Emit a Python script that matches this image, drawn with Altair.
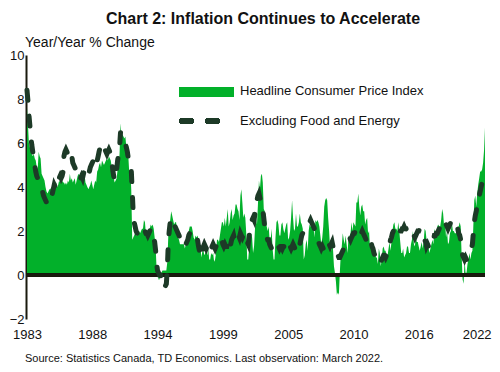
import altair as alt
import pandas as pd

# Monthly y/y % change, Jan 1983 - Mar 2022
headline = [
    7.6, 6.8, 6.0, 5.8, 5.7, 5.5, 5.4, 5.5, 5.3, 5.2, 4.9, 4.8,  # 1983
    5.6, 5.4, 5.3, 4.6, 4.5, 4.4, 4.3, 4.0, 3.8, 3.7, 3.8, 3.9,  # 1984
    3.9, 4.0, 3.9, 4.1, 4.2, 4.1, 4.2, 4.0, 4.1, 4.3, 4.2, 4.3,  # 1985
    4.3, 4.2, 4.2, 4.1, 4.2, 4.1, 4.3, 4.2, 4.6, 4.3, 4.4, 4.2,  # 1986
    4.3, 4.4, 4.1, 4.3, 4.5, 4.6, 4.5, 4.4, 4.6, 4.5, 4.5, 4.6,  # 1987
    4.2, 4.1, 4.0, 3.9, 4.0, 4.1, 4.3, 4.1, 3.9, 4.1, 4.3, 4.2,  # 1988
    4.7, 4.8, 5.0, 5.1, 4.9, 5.2, 5.1, 5.0, 5.1, 5.2, 5.3, 5.2,  # 1989
    5.4, 5.3, 5.2, 4.9, 4.6, 4.4, 4.2, 4.3, 4.4, 4.8, 5.0, 5.5,  # 1990
    6.9, 6.3, 6.4, 6.3, 6.2, 6.3, 5.8, 6.0, 5.4, 4.6, 4.8, 3.9,  # 1991
    1.6, 1.7, 1.8, 1.9, 1.8, 1.8, 1.9, 2.0, 1.9, 2.0, 2.1, 2.1,  # 1992
    2.5, 2.4, 1.9, 1.8, 1.8, 2.0, 2.1, 2.3, 2.2, 2.3, 2.1, 1.7,  # 1993
    1.3, 0.2, 0.2, -0.2, -0.2, 0.0, 0.1, 0.2, 0.2, 0.2, 0.2, 0.2,  # 1994
    0.6, 1.8, 2.2, 2.5, 2.9, 2.7, 2.5, 2.3, 2.4, 2.4, 2.0, 1.7,  # 1995
    1.6, 1.4, 1.4, 1.4, 1.4, 1.4, 1.2, 1.4, 1.5, 1.8, 2.0, 2.2,  # 1996
    2.2, 2.2, 2.0, 1.7, 1.6, 1.8, 1.7, 1.8, 1.6, 1.5, 1.2, 0.8,  # 1997
    1.1, 1.1, 0.9, 1.0, 1.1, 0.9, 1.2, 0.7, 0.7, 1.0, 0.9, 1.0,  # 1998
    0.6, 0.7, 1.0, 1.6, 1.6, 1.5, 1.8, 2.1, 2.4, 2.4, 2.2, 2.6,  # 1999
    2.2, 2.6, 3.0, 2.2, 2.4, 2.8, 3.0, 2.5, 2.7, 2.8, 3.2, 3.2,  # 2000
    3.0, 2.9, 2.5, 3.6, 3.9, 3.3, 2.6, 2.8, 2.6, 1.9, 0.7, 0.7,  # 2001
    1.3, 1.5, 1.9, 1.7, 1.0, 1.3, 2.1, 2.6, 2.3, 3.2, 4.3, 3.9,  # 2002
    4.5, 4.6, 4.2, 3.0, 2.9, 2.6, 2.2, 2.0, 2.2, 1.6, 1.6, 2.1,  # 2003
    1.2, 0.7, 0.7, 1.7, 2.4, 2.5, 2.3, 1.8, 1.8, 2.3, 2.4, 2.1,  # 2004
    1.9, 2.1, 2.3, 2.4, 1.6, 1.7, 2.0, 2.6, 3.4, 2.6, 2.0, 2.1,  # 2005
    2.8, 2.2, 2.2, 2.4, 2.8, 2.4, 2.3, 2.1, 0.7, 0.9, 1.4, 1.6,  # 2006
    1.1, 2.0, 2.3, 2.2, 2.2, 2.2, 2.2, 1.7, 2.5, 2.4, 2.5, 2.4,  # 2007
    2.2, 1.8, 1.4, 1.7, 2.2, 3.1, 3.4, 3.5, 3.4, 2.6, 2.0, 1.2,  # 2008
    1.1, 1.4, 1.2, 0.4, 0.1, -0.3, -0.9, -0.8, -0.9, 0.1, 1.0, 1.3,  # 2009
    1.9, 1.6, 1.4, 1.8, 1.4, 1.0, 1.8, 1.7, 1.9, 2.4, 2.0, 2.4,  # 2010
    2.3, 2.2, 3.3, 3.3, 3.7, 3.1, 2.7, 3.1, 3.2, 2.9, 2.9, 2.3,  # 2011
    2.5, 2.6, 1.9, 2.0, 1.2, 1.5, 1.3, 1.2, 1.2, 1.2, 0.8, 0.8,  # 2012
    0.5, 1.2, 1.0, 0.4, 0.7, 1.2, 1.3, 1.1, 1.1, 0.7, 0.9, 1.2,  # 2013
    1.5, 1.1, 1.5, 2.0, 2.3, 2.4, 2.1, 2.1, 2.0, 2.4, 2.0, 1.5,  # 2014
    1.0, 1.0, 1.2, 0.8, 0.9, 1.0, 1.3, 1.3, 1.0, 1.0, 1.4, 1.6,  # 2015
    2.0, 1.4, 1.3, 1.7, 1.5, 1.5, 1.3, 1.1, 1.3, 1.5, 1.2, 1.5,  # 2016
    2.1, 2.0, 1.6, 1.6, 1.3, 1.0, 1.2, 1.4, 1.6, 1.4, 2.1, 1.9,  # 2017
    1.7, 2.2, 2.3, 2.2, 2.2, 2.5, 3.0, 2.8, 2.2, 2.4, 1.7, 2.0,  # 2018
    1.4, 1.5, 1.9, 2.0, 2.4, 2.0, 2.0, 1.9, 1.9, 1.9, 2.2, 2.2,  # 2019
    2.4, 2.2, 0.9, -0.2, -0.4, 0.7, 0.1, 0.1, 0.5, 0.7, 1.0, 0.7,  # 2020
    1.0, 1.1, 2.2, 3.4, 3.6, 3.1, 3.7, 4.1, 4.4, 4.7, 4.7, 4.8,  # 2021
    5.1, 5.7, 6.7,                                               # 2022
]

core = [
    8.4, 7.9, 7.3, 6.8, 6.3, 5.9, 5.6, 5.3, 5.0, 4.7, 4.5, 4.4,  # 1983
    4.3, 4.2, 4.1, 4.0, 3.8, 3.6, 3.5, 3.4, 3.3, 3.3, 3.4, 3.3,  # 1984
    3.4, 3.5, 3.7, 3.9, 4.1, 4.0, 4.2, 4.3, 4.5, 4.4, 4.5, 4.4,  # 1985
    4.5, 4.7, 5.4, 5.6, 5.7, 5.6, 5.5, 5.6, 5.4, 5.3, 5.4, 5.1,  # 1986
    5.0, 4.9, 4.8, 4.6, 4.5, 4.4, 4.3, 4.4, 4.5, 4.4, 4.6, 4.8,  # 1987
    4.9, 4.8, 4.7, 4.6, 4.7, 4.9, 5.0, 5.1, 5.2, 5.0, 4.9, 5.0,  # 1988
    5.2, 5.4, 5.6, 5.8, 5.9, 5.8, 5.7, 5.8, 5.7, 5.6, 5.5, 5.6,  # 1989
    5.7, 5.6, 5.5, 5.2, 4.8, 4.5, 4.3, 4.4, 4.8, 5.2, 5.5, 5.8,  # 1990
    6.5, 6.4, 6.3, 6.2, 6.1, 6.0, 5.8, 5.6, 5.3, 5.1, 4.9, 4.8,  # 1991
    3.8, 2.8, 2.4, 2.2, 2.0, 1.9, 1.8, 1.8, 1.7, 1.8, 1.9, 2.0,  # 1992
    2.0, 2.0, 1.9, 1.9, 1.8, 1.9, 2.0, 2.1, 2.1, 2.0, 1.7, 1.5,  # 1993
    1.1, 0.5, 0.2, 0.1, 0.0, 0.0, -0.1, 0.0, -0.2, -0.4, -0.5, -0.4,  # 1994
    0.3, 1.5, 2.0, 2.4, 2.6, 2.5, 2.4, 2.3, 2.2, 2.1, 2.0, 1.9,  # 1995
    1.8, 1.7, 1.6, 1.6, 1.5, 1.4, 1.3, 1.4, 1.5, 1.6, 1.8, 1.9,  # 1996
    1.9, 1.8, 1.8, 1.7, 1.8, 1.7, 1.6, 1.6, 1.3, 1.1, 0.9, 0.8,  # 1997
    1.1, 1.3, 1.4, 1.3, 1.2, 1.3, 1.4, 1.2, 1.3, 1.2, 1.3, 1.4,  # 1998
    1.3, 1.2, 1.3, 1.4, 1.4, 1.3, 1.4, 1.5, 1.6, 1.4, 1.3, 1.4,  # 1999
    1.3, 1.3, 1.5, 1.2, 1.3, 1.4, 1.6, 1.7, 1.8, 1.6, 1.5, 1.7,  # 2000
    1.8, 1.8, 1.7, 1.9, 1.8, 1.7, 1.8, 1.9, 1.9, 1.6, 1.5, 1.4,  # 2001
    1.8, 2.1, 2.3, 2.5, 2.6, 2.5, 2.8, 3.1, 3.4, 3.6, 3.7, 3.5,  # 2002
    3.4, 3.3, 3.0, 2.6, 2.2, 1.9, 1.7, 1.6, 1.6, 1.4, 1.3, 1.2,  # 2003
    1.1, 1.1, 1.2, 1.3, 1.3, 1.2, 1.3, 1.2, 1.3, 1.3, 1.2, 1.3,  # 2004
    1.3, 1.4, 1.5, 1.4, 1.3, 1.4, 1.3, 1.2, 1.3, 1.4, 1.3, 1.2,  # 2005
    1.4, 1.3, 1.4, 1.5, 1.4, 1.6, 1.8, 1.9, 1.9, 2.0, 2.1, 2.2,  # 2006
    2.2, 2.3, 2.4, 2.5, 2.4, 2.3, 2.2, 2.1, 2.0, 1.9, 1.7, 1.5,  # 2007
    1.4, 1.3, 1.2, 1.3, 1.2, 1.1, 1.2, 1.3, 1.4, 1.5, 1.4, 1.3,  # 2008
    1.4, 1.5, 1.3, 1.2, 1.1, 1.0, 1.1, 0.9, 0.8, 0.8, 0.9, 1.0,  # 2009
    1.1, 1.2, 1.3, 1.4, 1.5, 1.6, 1.6, 1.7, 1.6, 1.7, 1.8, 1.9,  # 2010
    1.9, 2.0, 2.0, 1.9, 1.8, 1.9, 1.8, 1.9, 2.0, 1.9, 1.8, 1.7,  # 2011
    1.6, 1.7, 1.6, 1.6, 1.7, 1.5, 1.3, 1.2, 1.0, 0.9, 0.8, 0.7,  # 2012
    0.7, 0.6, 0.7, 0.6, 0.7, 0.8, 0.9, 0.9, 0.8, 0.9, 1.0, 1.2,  # 2013
    1.4, 1.6, 1.7, 1.9, 2.0, 1.9, 1.8, 1.9, 1.8, 1.9, 2.0, 2.0,  # 2014
    2.0, 2.1, 2.1, 2.2, 2.1, 2.1, 2.0, 1.9, 1.9, 1.8, 1.9, 1.9,  # 2015
    1.9, 1.8, 1.7, 1.8, 1.9, 2.0, 2.0, 2.1, 2.1, 2.0, 1.9, 1.7,  # 2016
    1.6, 1.5, 1.3, 1.4, 1.3, 1.4, 1.5, 1.4, 1.5, 1.6, 1.8, 1.8,  # 2017
    1.9, 1.9, 2.0, 2.1, 2.1, 2.2, 2.3, 2.2, 2.1, 2.2, 2.3, 2.2,  # 2018
    2.1, 2.2, 2.3, 2.4, 2.4, 2.5, 2.4, 2.4, 2.3, 2.2, 2.1, 1.9,  # 2019
    1.8, 1.6, 1.2, 0.9, 0.8, 0.7, 0.8, 0.7, 0.9, 1.0, 1.1, 1.2,  # 2020
    1.2, 1.4, 1.9, 2.4, 2.7, 2.9, 3.2, 3.4, 3.6, 3.8, 4.0, 4.2,  # 2021
    4.3, 4.4, 4.5,                                               # 2022
]

start_year = 1983
dates = [f"{start_year + i // 12}-{i % 12 + 1:02d}-01" for i in range(len(headline))]

y_ticks = [-2, 0, 2, 4, 6, 8, 10]
# x-axis labels every 67 months from Jan 1983
label_months = [(1983, 1), (1988, 8), (1994, 3), (1999, 10), (2005, 5), (2010, 12), (2016, 7), (2022, 2)]

title_text = "Chart 2: Inflation Continues to Accelerate"
y_title_text = "Year/Year % Change"
series_names = ["Headline Consumer Price Index", "Excluding Food and Energy"]
source_text = "Source: Statistics Canada, TD Economics.  Last observation: March 2022."

GREEN = "#02B02A"
DARK = "#1D3A27"
AXIS = "#1A1A0E"
FONT = "Liberation Sans"

df = pd.DataFrame({"date": dates, "headline": headline, "core": core})

x_scale = alt.Scale(
    type="utc",
    domain=[alt.DateTime(year=1982, month=12, date=1, utc=True),
            alt.DateTime(year=2022, month=3, date=1, utc=True)],
    nice=False,
)
y_scale = alt.Scale(domain=[-2, 10], nice=False)

x_enc = alt.X(
    "date:T",
    scale=x_scale,
    axis=alt.Axis(
        values=[alt.DateTime(year=y, month=m, date=1, utc=True) for y, m in label_months],
        format="%Y",
        title=None,
        domain=False,
        ticks=False,
        grid=False,
        labelFont=FONT,
        labelFontSize=13,
        labelColor="#111111",
        labelPadding=9,
        labelFlush=False,
        labelOverlap=False,
        labelBound=False,
        labelAlign={"condition": {"test": "utcyear(datum.value) >= 2022", "value": "right"}, "value": "center"},
        labelOffset={"condition": {"test": "utcyear(datum.value) >= 2022", "value": 7}, "value": 0},
    ),
)

area = alt.Chart(df).mark_area(color=GREEN, opacity=1).encode(
    x=x_enc,
    y=alt.Y(
        "headline:Q",
        scale=y_scale,
        axis=alt.Axis(
            values=y_ticks,
            title=None,
            grid=False,
            ticks=False,
            domain=True,
            domainColor=AXIS,
            domainWidth=2,
            labelFont=FONT,
            labelFontSize=13,
            labelColor="#111111",
            labelPadding=2,
        ),
    ),
)

zero = alt.Chart(df).mark_rule(color=AXIS, strokeWidth=2.5).encode(y=alt.datum(0))

line = alt.Chart(df).mark_line(
    color=DARK, strokeWidth=5, strokeDash=[10, 16], strokeCap="round"
).encode(x=alt.X("date:T"), y=alt.Y("core:Q"))


def label(text, x, y, size=13, weight="normal", align="left"):
    return alt.Chart(pd.DataFrame({"t": [text]})).mark_text(
        font=FONT, fontSize=size, fontWeight=weight, align=align,
        baseline="middle", color="#111111",
    ).encode(x=alt.value(x), y=alt.value(y), text="t:N")


title = label(title_text, 237, -36, size=16, weight="bold", align="center")
ytitle = label(y_title_text, -1, -12.5, size=14)
leg_rect = alt.Chart(df).mark_rule(color=GREEN, strokeWidth=8.5).encode(
    x=alt.value(153), x2=alt.value(208), y=alt.value(37)
)
leg_line = alt.Chart(df).mark_rule(
    color=DARK, strokeWidth=5, strokeDash=[10, 16], strokeCap="round"
).encode(x=alt.value(155.5), x2=alt.value(192), y=alt.value(66))
leg_t1 = label(series_names[0], 214, 36)
leg_t2 = label(series_names[1], 214, 66)
source = label(source_text, -1, 304, size=11)

chart = alt.layer(
    area, zero, line, leg_rect, leg_line, leg_t1, leg_t2, title, ytitle, source
).properties(
    width=459,
    height=264,
    padding={"left": 18, "top": 47, "right": 7, "bottom": 45},
    autosize=alt.AutoSizeParams(type="none"),
    background="white",
).configure_view(stroke=None)

chart.save("out.html", embed_options={"renderer": "svg", "actions": False})
